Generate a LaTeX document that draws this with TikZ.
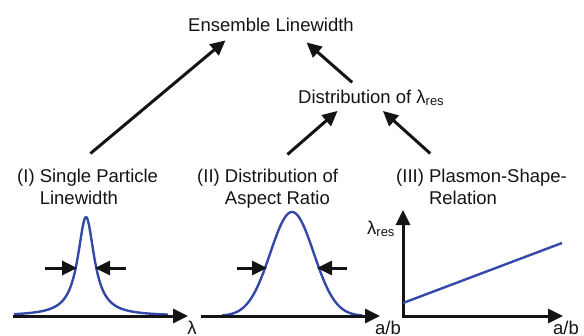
\documentclass[tikz,border=0pt]{standalone}
\usepackage{fontspec}
\setmainfont{Liberation Sans}
\usetikzlibrary{arrows.meta,calc}

\definecolor{curveblue}{RGB}{52,72,168}
\definecolor{ink}{RGB}{20,20,20}

\begin{document}
\begin{tikzpicture}[
  x=1pt, y=-1pt,
  >={Triangle[length=15pt,width=14pt]},
  lbl/.style={font=\fontsize{18.5}{22}\selectfont, text=ink, inner sep=0pt},
  axis/.style={draw, ->, line width=3pt, ink},
  curve/.style={line width=2.4pt, curveblue, line join=round},
  fwhm/.style={draw, ->, line width=3pt, ink},
  every edge/.style={
    draw,
    ->,
    line width=3pt,
    ink
  }
]
  \useasboundingbox (0,0) rectangle (584,335);

  % Top of the tree
  \node[lbl, anchor=base] (ens) at (271,31) {Ensemble Linewidth};
  \node[lbl, anchor=base west] (distres) at (298,103) {Distribution of λ\textsubscript{res}};

  % The three contributions
  \node[lbl, anchor=north west, align=left] (single) at (17,168.5)
    {(I) Single Particle\\\phantom{(I) }Linewidth};
  \node[lbl, anchor=north west, align=left] (aspect) at (197,168.5)
    {(II) Distribution of\\\phantom{(II) }Aspect Ratio};
  \node[lbl, anchor=north west, align=left] (plasmon) at (396,168.5)
    {(III) Plasmon-Shape-\\\phantom{(III) }Relation};

  % Arrows up the tree
  \path ($(single.north west)!0.52!(single.north east)+(0,-15)$)
    edge ($(ens.south west)!0.226!(ens.south east)+(0,9)$);
  \path ($(distres.north west)!0.37!(distres.north east)+(0,-7)$)
    edge ($(ens.south west)!0.714!(ens.south east)+(0,11)$);
  \path ($(aspect.north west)!0.64!(aspect.north east)+(0,-14)$)
    edge ($(distres.south west)!0.27!(distres.south east)+(0,5)$);
  \path ($(plasmon.north west)!0.2!(plasmon.north east)+(0,-15)$)
    edge ($(distres.south west)!0.58!(distres.south east)+(0,5)$);

  % (I) Lorentzian line
  \draw[curve] plot[domain=14:168, samples=160] (\x,{316-99/(1+((\x-86)/10)^2)});
  \draw[axis] (13,316) -- (188,316);
  \node[lbl, anchor=north] (lamax) at (192,321) {λ};
  \draw[fwhm] (45,268) -- (77,268);
  \draw[fwhm] (126,268) -- (95,268);

  % (II) Gaussian spread of a/b
  \draw[curve] plot[domain=222:362, samples=120] (\x,{316-104*exp(-((\x-292)/21.7)^2/2)});
  \draw[axis] (201,316) -- (380,316);
  \node[lbl, anchor=north] (abaxII) at (388,321) {a/b};
  \draw[fwhm] (237,268) -- (267,268);
  \draw[fwhm] (347,268) -- (317,268);

  % (III) resonance vs aspect ratio
  \draw[axis, <->] (403,210) -- (403,316) -- (563,316);
  \draw[curve] (403,303) -- (562,243);
  \node[lbl, anchor=base west] (lamres) at (367,234) {λ\textsubscript{res}};
  \node[lbl, anchor=north] (abaxIII) at (566,321) {a/b};

\end{tikzpicture}
\end{document}
